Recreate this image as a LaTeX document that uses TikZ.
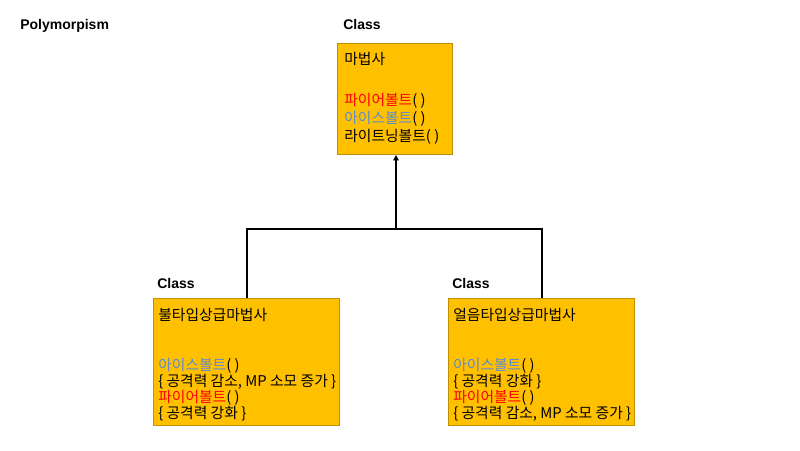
\documentclass[tikz,border=0pt]{standalone}
\usepackage{fontspec}
\setmainfont{Noto Sans CJK KR}
\newfontfamily\latbold{Liberation Sans}
\usetikzlibrary{arrows.meta}
\definecolor{boxfill}{HTML}{FFC000}
\definecolor{boxline}{HTML}{BF9000}
\definecolor{fire}{HTML}{FF0000}
\definecolor{ice}{HTML}{5B8BD5}
\tikzset{
  umlbox/.style={draw=boxline, fill=boxfill, line width=0.75pt, inner sep=0pt, anchor=north west},
  txt/.style={anchor=base west, inner sep=0pt, font=\fontsize{11.1pt}{12pt}\selectfont},
  title/.style={anchor=base west, inner sep=0pt, font=\latbold\bfseries\fontsize{10.5pt}{12pt}\selectfont},
  conn/.style={line width=1.5pt, black}
}
\begin{document}
\begin{tikzpicture}[x=0.75pt,y=-0.75pt]
\useasboundingbox (0,0) rectangle (800,450);
\node[title] (poly) at (20,29) {Polymorpism};
\node[title] (c1) at (343,29) {Class};
\node[title] (c2) at (157,288) {Class};
\node[title] (c3) at (452,288) {Class};
% boxes
\node[umlbox, minimum width=86.25pt, minimum height=83.25pt] (mage) at (337,43) {};
\node[umlbox, minimum width=139.5pt, minimum height=95.25pt] (firem) at (153,298) {};
\node[umlbox, minimum width=139.5pt, minimum height=95.25pt] (icem) at (448,298) {};
% top texts
\node[txt] (m0) at (344,64.5) {마법사};
\node[txt] (m1) at (344,105.5) {\textcolor{fire}{파이어볼트}( )};
\node[txt] (m2) at (344,123.5) {\textcolor{ice}{아이스볼트}( )};
\node[txt] (m3) at (344,141.5) {라이트닝볼트( )};
% left texts
\node[txt] (f0) at (158,320.5) {불타입상급마법사};
\node[txt] (f1) at (158,370.5) {\textcolor{ice}{아이스볼트}( )};
\node[txt] (f2) at (158,386.5) {\{ 공격력 감소, MP 소모 증가 \}};
\node[txt] (f3) at (158,402.5) {\textcolor{fire}{파이어볼트}( )};
\node[txt] (f4) at (158,418.5) {\{ 공격력 강화 \}};
% right texts
\node[txt] (i0) at (453,320.5) {얼음타입상급마법사};
\node[txt] (i1) at (453,370.5) {\textcolor{ice}{아이스볼트}( )};
\node[txt] (i2) at (453,386.5) {\{ 공격력 강화 \}};
\node[txt] (i3) at (453,402.5) {\textcolor{fire}{파이어볼트}( )};
\node[txt] (i4) at (453,418.5) {\{ 공격력 감소, MP 소모 증가 \}};
% connectors
\coordinate (j) at (396,229);
\draw[conn] (firem.north) |- (j) -| (icem.north);
\draw[conn, line width=1pt, -{Triangle[length=4pt,width=4pt]}] (j) -- (j |- mage.south);
\end{tikzpicture}
\end{document}
